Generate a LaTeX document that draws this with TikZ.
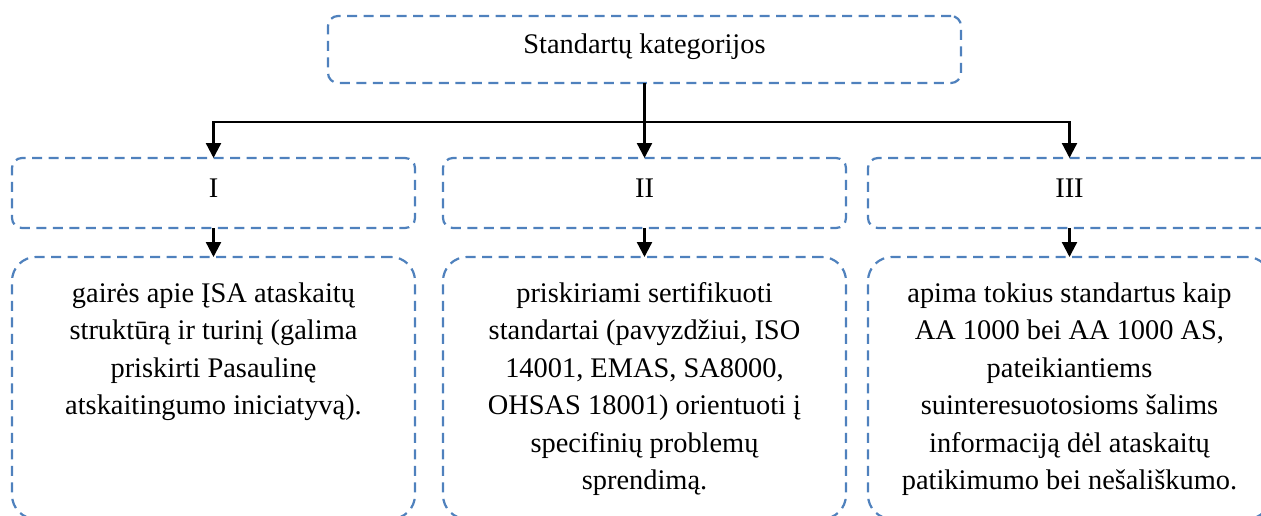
\documentclass[tikz,border=0pt]{standalone}
\usepackage{fontspec}
\setmainfont{Liberation Serif}
\usetikzlibrary{arrows.meta}
\definecolor{boxblue}{RGB}{79,129,189}
\newcommand{\desctext}[1]{\parbox[c][224pt][t]{395pt}{\centering\strut #1}}
\begin{document}
\begin{tikzpicture}[x=1pt,y=-1pt,inner sep=0pt,outer sep=0pt,
dashbox/.style={draw=boxblue,line width=2.2pt,dash pattern=on 10pt off 6.5pt,minimum width=403pt,font=\fontsize{28.4}{37.5}\selectfont},
catbox/.style={dashbox,rounded corners=10pt,minimum height=70pt,text height=19pt,text depth=11pt},
descbox/.style={dashbox,rounded corners=24pt,minimum height=262pt},
arr/.style={line width=2.3pt,-{Triangle[width=15pt,length=15pt]}}]
\clip (0,0) rectangle (1261,515);
\draw (644.5,49.5) node[catbox,minimum width=633pt,minimum height=67pt] (cat) {Standartų kategorijos};
\draw (213.5,193) node[catbox] (k1) {I};
\draw (644.5,193) node[catbox] (k2) {II};
\draw (1069.5,193) node[catbox] (k3) {III};
\draw (213.5,388) node[descbox] (d1) {\desctext{gairės apie ĮSA ataskaitų\\ struktūrą ir turinį (galima\\ priskirti Pasaulinę\\ atskaitingumo iniciatyvą).}};
\draw (644.5,388) node[descbox] (d2) {\desctext{priskiriami sertifikuoti\\ standartai (pavyzdžiui, ISO\\ 14001, EMAS, SA8000,\\ OHSAS 18001) orientuoti į\\ specifinių problemų\\ sprendimą.}};
\draw (1069.5,388) node[descbox] (d3) {\desctext{apima tokius standartus kaip\\ AA 1000 bei AA 1000 AS,\\ pateikiantiems\\ suinteresuotosioms šalims\\ informaciją dėl ataskaitų\\ patikimumo bei nešališkumo.}};
\path (cat.south) ++(0,39) coordinate (split);
\draw[arr] (cat.south) -- (k2.north);
\draw[arr] (split) -| (k1.north);
\draw[arr] (split) -| (k3.north);
\foreach \i in {1,2,3}
  \draw[arr] (k\i.south) -- (d\i.north);
\end{tikzpicture}
\end{document}
